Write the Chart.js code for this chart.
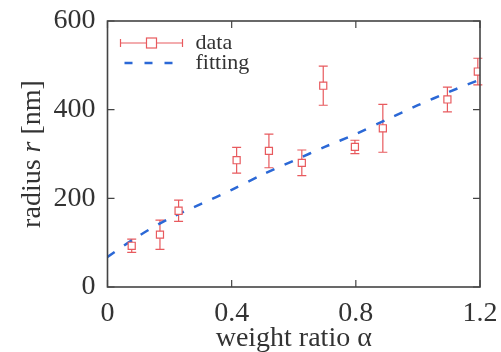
<!DOCTYPE html>
<html>
<head>
<meta charset="utf-8">
<script src="https://cdn.jsdelivr.net/npm/chart.js@4/dist/chart.umd.min.js"></script>
<style>
  html, body { margin: 0; padding: 0; background: #fff; }
  #wrap { width: 501px; height: 352px; }
</style>
</head>
<body>
<div id="wrap"><canvas id="chart"></canvas></div>
<script>
// measured points (weight ratio, radius) with error half-widths
const alpha = [0.078, 0.169, 0.229, 0.416, 0.52, 0.626, 0.695, 0.797, 0.887, 1.095, 1.193];
const radius = [93, 118, 172, 286, 307, 280, 454, 316, 358, 423, 486];
const radiusErr = [15, 33, 24, 29, 38, 29, 44, 15, 54, 28, 30];

// fitting curve
const fitAlpha = [0, 0.1, 0.2, 0.3, 0.4, 0.5, 0.6, 0.7, 0.8, 0.9, 1.0, 1.1, 1.2];
const fitRadius = [68, 115, 155, 187, 219, 254, 285, 316, 345, 378, 410, 440, 468];

const xTicks = [0, 0.4, 0.8, 1.2];
const yTicks = [0, 200, 400, 600];

const red = '#e85a5e';
const blue = '#2b68d6';
const ink = '#333';
const serif = "'Liberation Serif', 'DejaVu Serif', serif";

const decor = {
    id: 'decor',
    beforeDatasetsDraw(chart) {
        const ctx = chart.ctx;
        const xs = chart.scales.x, ys = chart.scales.y;
        ctx.save();
        ctx.strokeStyle = red;
        ctx.lineWidth = 1.2;
        alpha.forEach(function (a, i) {
            const px = xs.getPixelForValue(a);
            const top = ys.getPixelForValue(radius[i] + radiusErr[i]);
            const bot = ys.getPixelForValue(radius[i] - radiusErr[i]);
            ctx.beginPath();
            ctx.moveTo(px, top); ctx.lineTo(px, bot);
            ctx.moveTo(px - 4.5, top); ctx.lineTo(px + 4.5, top);
            ctx.moveTo(px - 4.5, bot); ctx.lineTo(px + 4.5, bot);
            ctx.stroke();
        });
        ctx.restore();
    },
    afterDraw(chart) {
        const ctx = chart.ctx;
        const a = chart.chartArea;
        const xs = chart.scales.x, ys = chart.scales.y;
        ctx.save();

        // frame and inward ticks on all sides
        ctx.strokeStyle = '#444';
        ctx.lineWidth = 1.6;
        ctx.strokeRect(a.left, a.top, a.right - a.left, a.bottom - a.top);
        ctx.lineWidth = 1.2;
        ctx.beginPath();
        xTicks.forEach(function (v) {
            const px = xs.getPixelForValue(v);
            ctx.moveTo(px, a.bottom); ctx.lineTo(px, a.bottom - 7);
            ctx.moveTo(px, a.top); ctx.lineTo(px, a.top + 7);
        });
        yTicks.forEach(function (v) {
            const py = ys.getPixelForValue(v);
            ctx.moveTo(a.left, py); ctx.lineTo(a.left + 7, py);
            ctx.moveTo(a.right, py); ctx.lineTo(a.right - 7, py);
        });
        ctx.stroke();

        // legend
        const ly1 = a.top + 22, ly2 = a.top + 42;
        ctx.strokeStyle = red;
        ctx.lineWidth = 1.2;
        ctx.beginPath();
        ctx.moveTo(a.left + 13, ly1); ctx.lineTo(a.left + 75, ly1);
        ctx.moveTo(a.left + 13, ly1 - 4); ctx.lineTo(a.left + 13, ly1 + 4);
        ctx.moveTo(a.left + 75, ly1 - 4); ctx.lineTo(a.left + 75, ly1 + 4);
        ctx.stroke();
        ctx.fillStyle = '#fff';
        ctx.fillRect(a.left + 39, ly1 - 5, 10, 10);
        ctx.strokeRect(a.left + 39, ly1 - 5, 10, 10);

        ctx.strokeStyle = blue;
        ctx.lineWidth = 2.5;
        ctx.setLineDash([8, 12]);
        ctx.beginPath();
        ctx.moveTo(a.left + 17, ly2); ctx.lineTo(a.left + 70, ly2);
        ctx.stroke();
        ctx.setLineDash([]);

        ctx.fillStyle = ink;
        ctx.font = '22px ' + serif;
        ctx.textBaseline = 'middle';
        ctx.textAlign = 'left';
        ctx.fillText('data', a.left + 88, ly1);
        ctx.fillText('fitting', a.left + 88, ly2);

        // y title with italic r
        const parts = [['radius ', 'normal'], ['r', 'italic'], [' [nm]', 'normal']];
        ctx.translate(33, (a.top + a.bottom) / 2);
        ctx.rotate(-Math.PI / 2);
        let total = 0;
        parts.forEach(function (p) {
            ctx.font = p[1] + ' 28px ' + serif;
            total += ctx.measureText(p[0]).width;
        });
        let x = -total / 2;
        parts.forEach(function (p) {
            ctx.font = p[1] + ' 28px ' + serif;
            ctx.fillText(p[0], x, 0);
            x += ctx.measureText(p[0]).width;
        });
        ctx.restore();
    }
};

const ctx = document.getElementById('chart').getContext('2d');
const chart = new Chart(ctx, {
    type: 'scatter',
    data: {
        datasets: [{
            label: 'data',
            data: alpha.map(function (a, i) { return { x: a, y: radius[i] }; }),
            pointStyle: 'rect',
            pointRadius: 5,
            pointBorderWidth: 1.2,
            pointBorderColor: red,
            pointBackgroundColor: '#fff',
            showLine: false,
            order: 0
        }, {
            label: 'fitting',
            type: 'line',
            data: fitAlpha.map(function (a, i) { return { x: a, y: fitRadius[i] }; }),
            borderColor: blue,
            borderWidth: 2.5,
            borderDash: [9, 11],
            pointRadius: 0,
            tension: 0.3,
            fill: false,
            order: 1
        }]
    },
    options: {
        responsive: true,
        maintainAspectRatio: false,
        animation: false,
        layout: { padding: { top: 21, right: 21, left: 0, bottom: 0 } },
        plugins: {
            legend: { display: false },
            tooltip: { enabled: false }
        },
        scales: {
            x: {
                type: 'linear',
                min: 0,
                max: 1.2,
                afterBuildTicks: function (scale) {
                    scale.ticks = xTicks.map(function (v) { return { value: v }; });
                },
                afterFit: function (scale) {
                    scale.height = 65;
                    scale.paddingLeft = 0;
                    scale.paddingRight = 0;
                },
                grid: { display: false, drawTicks: false },
                border: { display: false },
                ticks: {
                    padding: 10,
                    color: ink,
                    font: { family: serif, size: 28 },
                    maxRotation: 0
                },
                title: {
                    display: true,
                    text: 'weight ratio α',
                    color: ink,
                    font: { family: serif, size: 28, lineHeight: 1.0 },
                    padding: { top: 0, bottom: -1 }
                }
            },
            y: {
                type: 'linear',
                min: 0,
                max: 600,
                afterBuildTicks: function (scale) {
                    scale.ticks = yTicks.map(function (v) { return { value: v }; });
                },
                afterFit: function (scale) {
                    scale.width = 107.5;
                    scale.paddingTop = 0;
                    scale.paddingBottom = 0;
                },
                grid: { display: false, drawTicks: false },
                border: { display: false },
                ticks: {
                    padding: 12,
                    color: ink,
                    font: { family: serif, size: 28 }
                }
            }
        }
    },
    plugins: [decor]
});
</script>
</body>
</html>
